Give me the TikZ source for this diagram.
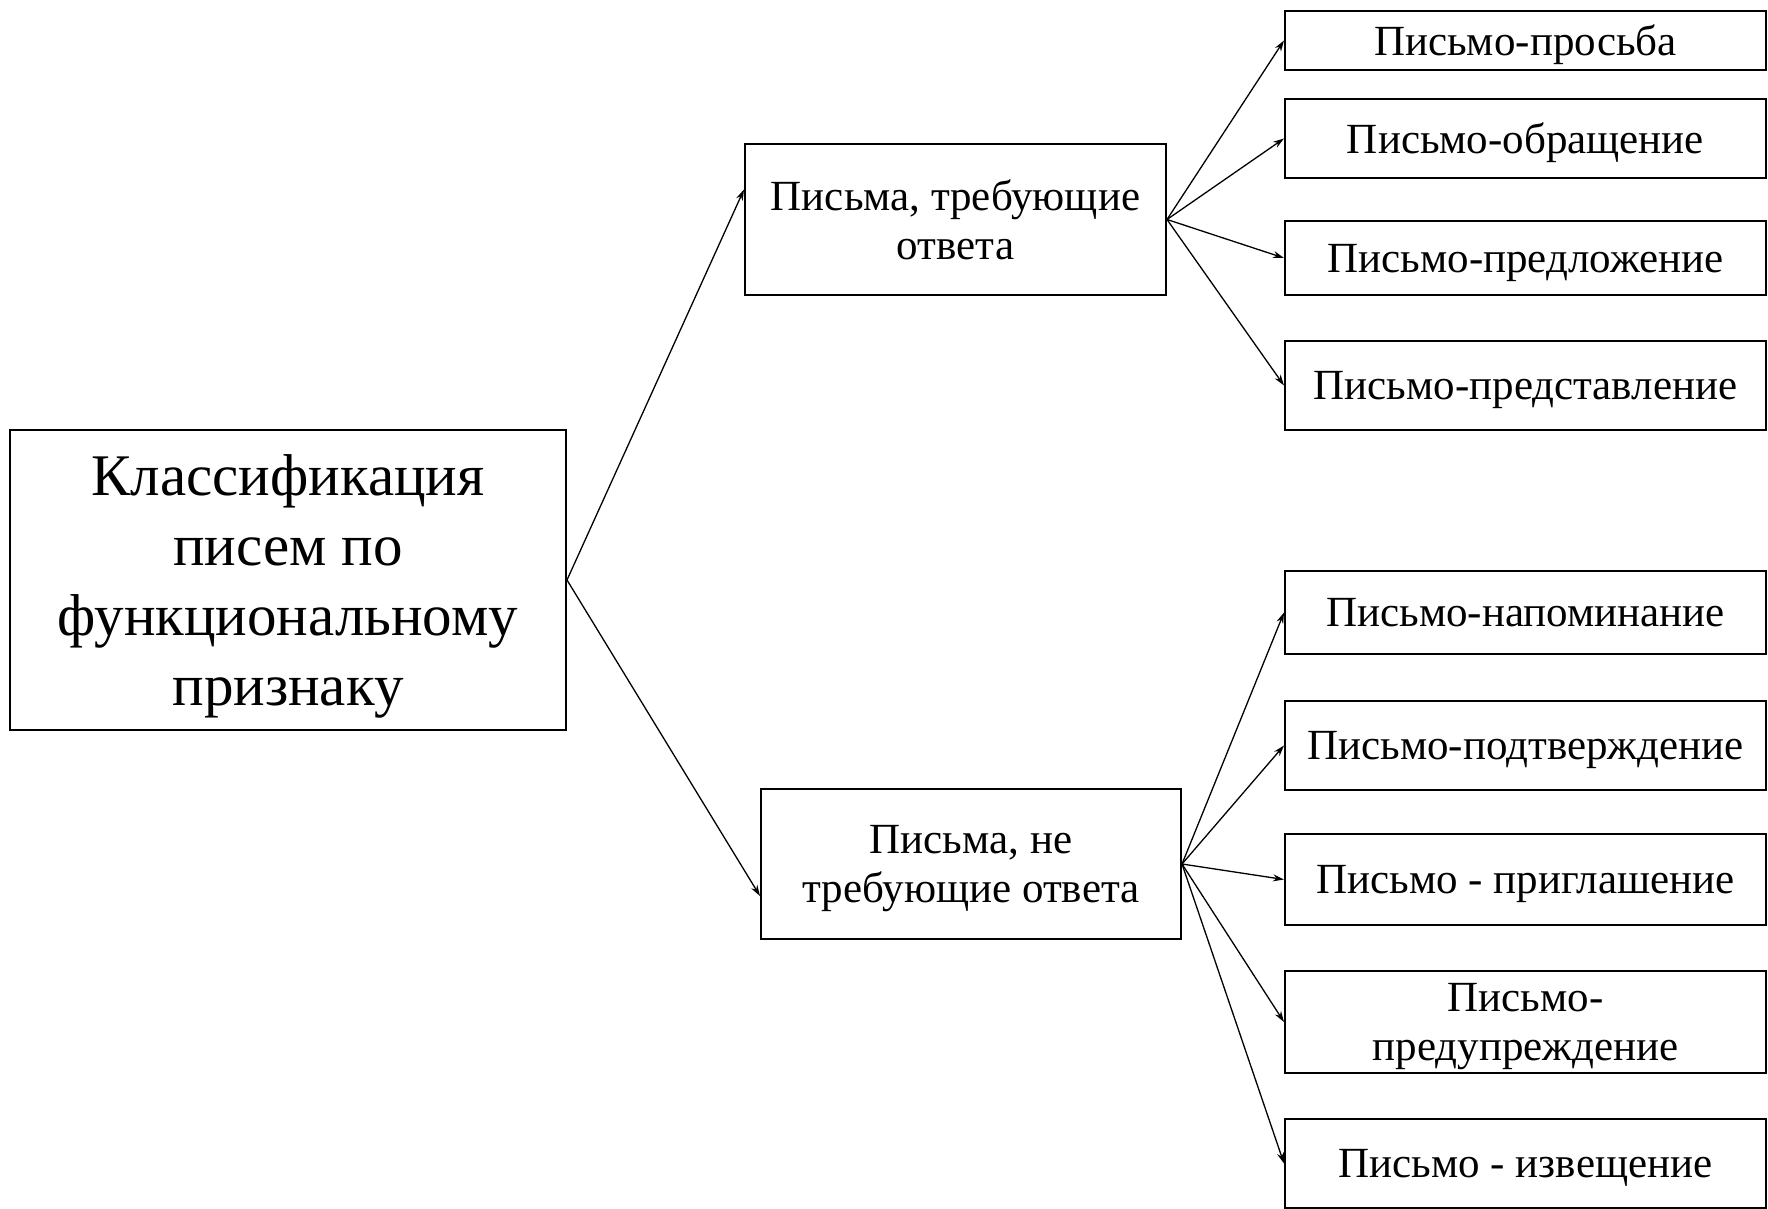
\documentclass[tikz,border=0pt]{standalone}
\usepackage{fontspec}
\setmainfont{Liberation Serif}
\usetikzlibrary{arrows.meta}

\tikzset{
  box/.style={draw, line width=1pt, inner sep=0.75pt, align=center, text depth=0pt, font=\fontsize{21.5}{24.5}\selectfont},
  bigbox/.style={box, font=\fontsize{29.5}{35}\selectfont},
  arr/.style={line width=0.65pt, -{Stealth[length=5.5pt,width=3.5pt]}}
}

\begin{document}
\begin{tikzpicture}[x=0.5pt,y=0.5pt,yscale=-1,xscale=1]
%set diagram size: 1768 x 1209
\useasboundingbox (0,0) rectangle (1768,1209);

%Shape: Rectangle [id:main]
\node[bigbox, minimum width=278pt, minimum height=150pt] (main) at (288,580) {Классификация\\писем по\\функциональному\\признаку};

%Shape: Rectangle [id:reply]
\node[box, minimum width=210.5pt, minimum height=75.5pt] (reply) at (955.5,219.5) {Письма, требующие\\ответа};
%Shape: Rectangle [id:noreply]
\node[box, minimum width=210pt, minimum height=75pt] (noreply) at (971,864) {Письма, не\\требующие ответа};

% Text Node
\node[box, minimum width=240.5pt, minimum height=29.5pt] (request) at (1525.5,40.5) {Письмо-просьба};
% Text Node
\node[box, minimum width=240.5pt, minimum height=39.5pt] (appeal) at (1525.5,138.5) {Письмо-обращение};
% Text Node
\node[box, minimum width=240.5pt, minimum height=37pt] (offer) at (1525.5,258) {Письмо-предложение};
% Text Node
\node[box, minimum width=240.5pt, minimum height=44.5pt] (present) at (1525.5,385.5) {Письмо-представление};

% Text Node
\node[box, minimum width=240.5pt, minimum height=41.5pt] (remind) at (1525.5,612.5) {Письмо-напоминание};
% Text Node
\node[box, minimum width=240.5pt, minimum height=44.5pt] (confirm) at (1525.5,745.5) {Письмо-подтверждение};
% Text Node
\node[box, minimum width=240.5pt, minimum height=45.5pt] (invite) at (1525.5,879.5) {Письмо - приглашение};
% Text Node
\node[box, minimum width=240.5pt, minimum height=51pt] (warn) at (1525.5,1022) {Письмо-\\предупреждение};
% Text Node
\node[box, minimum width=240.5pt, minimum height=44.5pt] (notice) at (1525.5,1163.5) {Письмо - извещение};

%Straight Lines [id:main]
\draw[arr] (main.east) -- ([yshift=-15pt]reply.west);
\draw[arr] (main.east) -- ([yshift=16pt]noreply.west);

%Straight Lines [id:reply]
\foreach \t in {request,appeal,offer,present}
  \draw[arr] (reply.east) -- (\t.west);

%Straight Lines [id:noreply]
\foreach \t in {remind,confirm,invite,warn,notice}
  \draw[arr] (noreply.east) -- (\t.west);

\end{tikzpicture}
\end{document}
